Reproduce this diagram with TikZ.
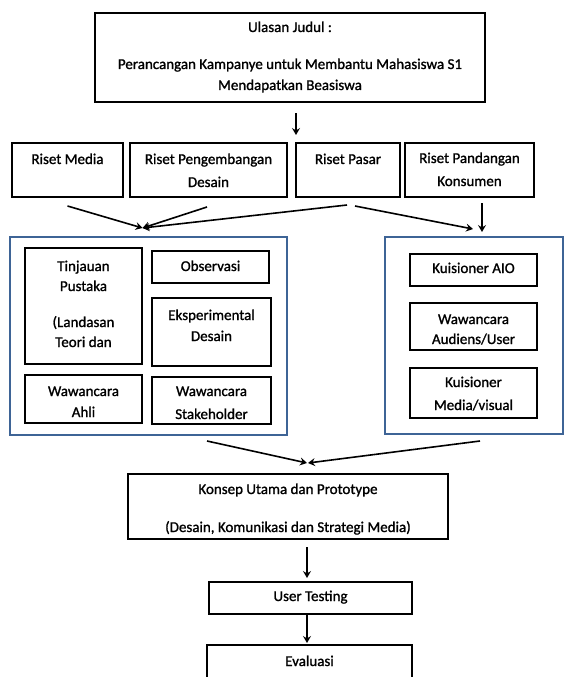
\documentclass[tikz,border=0pt]{standalone}
\usepackage{fontspec}
\setmainfont{Carlito}[RawFeature={embolden=1.2}]
\usetikzlibrary{arrows.meta}
\definecolor{frameblue}{RGB}{62,100,150}
\newcommand{\bxt}[4]{\parbox[t][#2][t]{#1}{\centering\rule{0pt}{#3}#4\par}}
\begin{document}
\begin{tikzpicture}[x=1pt,y=-1pt,
  bx/.style={draw=black, line width=1.3pt, inner sep=0pt, outer sep=0pt, anchor=north west, font=\fontsize{15}{21}\selectfont},
  bluebox/.style={draw=frameblue, line width=2.8pt, inner sep=0pt, outer sep=0pt, anchor=north west},
  arr/.style={line width=1.6pt, -{Stealth[length=7pt,width=8pt,inset=2.5pt]}}]
\clip (0,0) rectangle (565,677);
\fill[white] (0,0) rectangle (565,677);
% top
\node[bx] (top) at (95,13) {\bxt{390pt}{89pt}{19pt}{Ulasan Judul :\\[16pt]Perancangan Kampanye untuk Membantu Mahasiswa S1\\Mendapatkan Beasiswa}};
% research row
\node[bx] (rm) at (12,143) {\bxt{111pt}{54pt}{21pt}{Riset Media}};
\node[bx] (rpd) at (130,143) {\bxt{157pt}{54pt}{21pt}{Riset Pengembangan\\[2pt]Desain}};
\node[bx] (rp) at (296,143) {\bxt{104pt}{54pt}{21pt}{Riset Pasar}};
\node[bx] (rpk) at (405,143) {\bxt{129pt}{54pt}{20pt}{Riset Pandangan\\[2pt]Konsumen}};
% frames
\node[bluebox, minimum width=277pt, minimum height=198pt] (bl) at (10,237) {};
\node[bluebox, minimum width=178pt, minimum height=197pt] (br) at (385,237) {};
% left frame content
\node[bx] (tp) at (25,248) {\bxt{117pt}{116pt}{23pt}{Tinjauan\\[-1pt]Pustaka\\[15pt](Landasan\\[-1pt]Teori dan}};
\node[bx] (ob) at (152,251) {\bxt{117pt}{32pt}{20pt}{Observasi}};
\node[bx] (ek) at (152,298) {\bxt{119pt}{68pt}{22pt}{Eksperimental\\Desain}};
\node[bx] (wa) at (25,375) {\bxt{117pt}{48pt}{21pt}{Wawancara\\Ahli}};
\node[bx] (ws) at (152,377) {\bxt{119pt}{47pt}{19pt}{Wawancara\\[2pt]Stakeholder}};
% right frame content
\node[bx] (ka) at (410,254) {\bxt{127pt}{32pt}{19pt}{Kuisioner AIO}};
\node[bx] (wau) at (410,303) {\bxt{127pt}{47pt}{21pt}{Wawancara\\[-1pt]Audiens/User}};
\node[bx] (kmv) at (410,368) {\bxt{127pt}{50pt}{19pt}{Kuisioner\\[2pt]Media/visual}};
% lower chain
\node[bx] (ks) at (128,474) {\bxt{320pt}{65pt}{20pt}{Konsep Utama dan Prototype\\[17pt](Desain, Komunikasi dan Strategi Media)}};
\node[bx] (ut) at (209,582) {\bxt{203pt}{32pt}{19pt}{User Testing}};
\node[bx] (ev) at (207,645) {\bxt{205pt}{50pt}{21pt}{Evaluasi}};
% arrows
\draw[arr] ([xshift=6pt,yshift=-11pt]top.south) -- ([xshift=-52pt,yshift=8pt]rp.north);
\draw[arr] ([yshift=-9pt]rm.south) -- ([xshift=-6pt,yshift=9pt]bl.north);
\draw[arr] ([xshift=-1.5pt,yshift=-10pt]rpd.south) -- ([xshift=-6pt,yshift=9pt]bl.north);
\draw[arr] ([xshift=-1pt,yshift=-8pt]rp.south) -- ([xshift=-6pt,yshift=9pt]bl.north);
\draw[arr] ([xshift=7pt,yshift=-9pt]rp.south) -- ([xshift=-1pt,yshift=8pt]br.north);
\draw[arr] ([xshift=12.5pt,yshift=-6pt]rpk.south) -- ([xshift=8pt,yshift=5pt]br.north);
\draw[arr] ([xshift=58.5pt,yshift=-6pt]bl.south) -- ([xshift=19pt,yshift=11pt]ks.north);
\draw[arr] ([xshift=6pt,yshift=-7pt]br.south) -- ([xshift=20pt,yshift=11pt]ks.north);
\draw[arr] ([xshift=19pt,yshift=-8pt]ks.south) -- ([xshift=-3.5pt,yshift=4pt]ut.north);
\draw[arr] ([xshift=-3.5pt]ut.south) -- ([xshift=-2.5pt,yshift=2pt]ev.north);
\end{tikzpicture}
\end{document}
